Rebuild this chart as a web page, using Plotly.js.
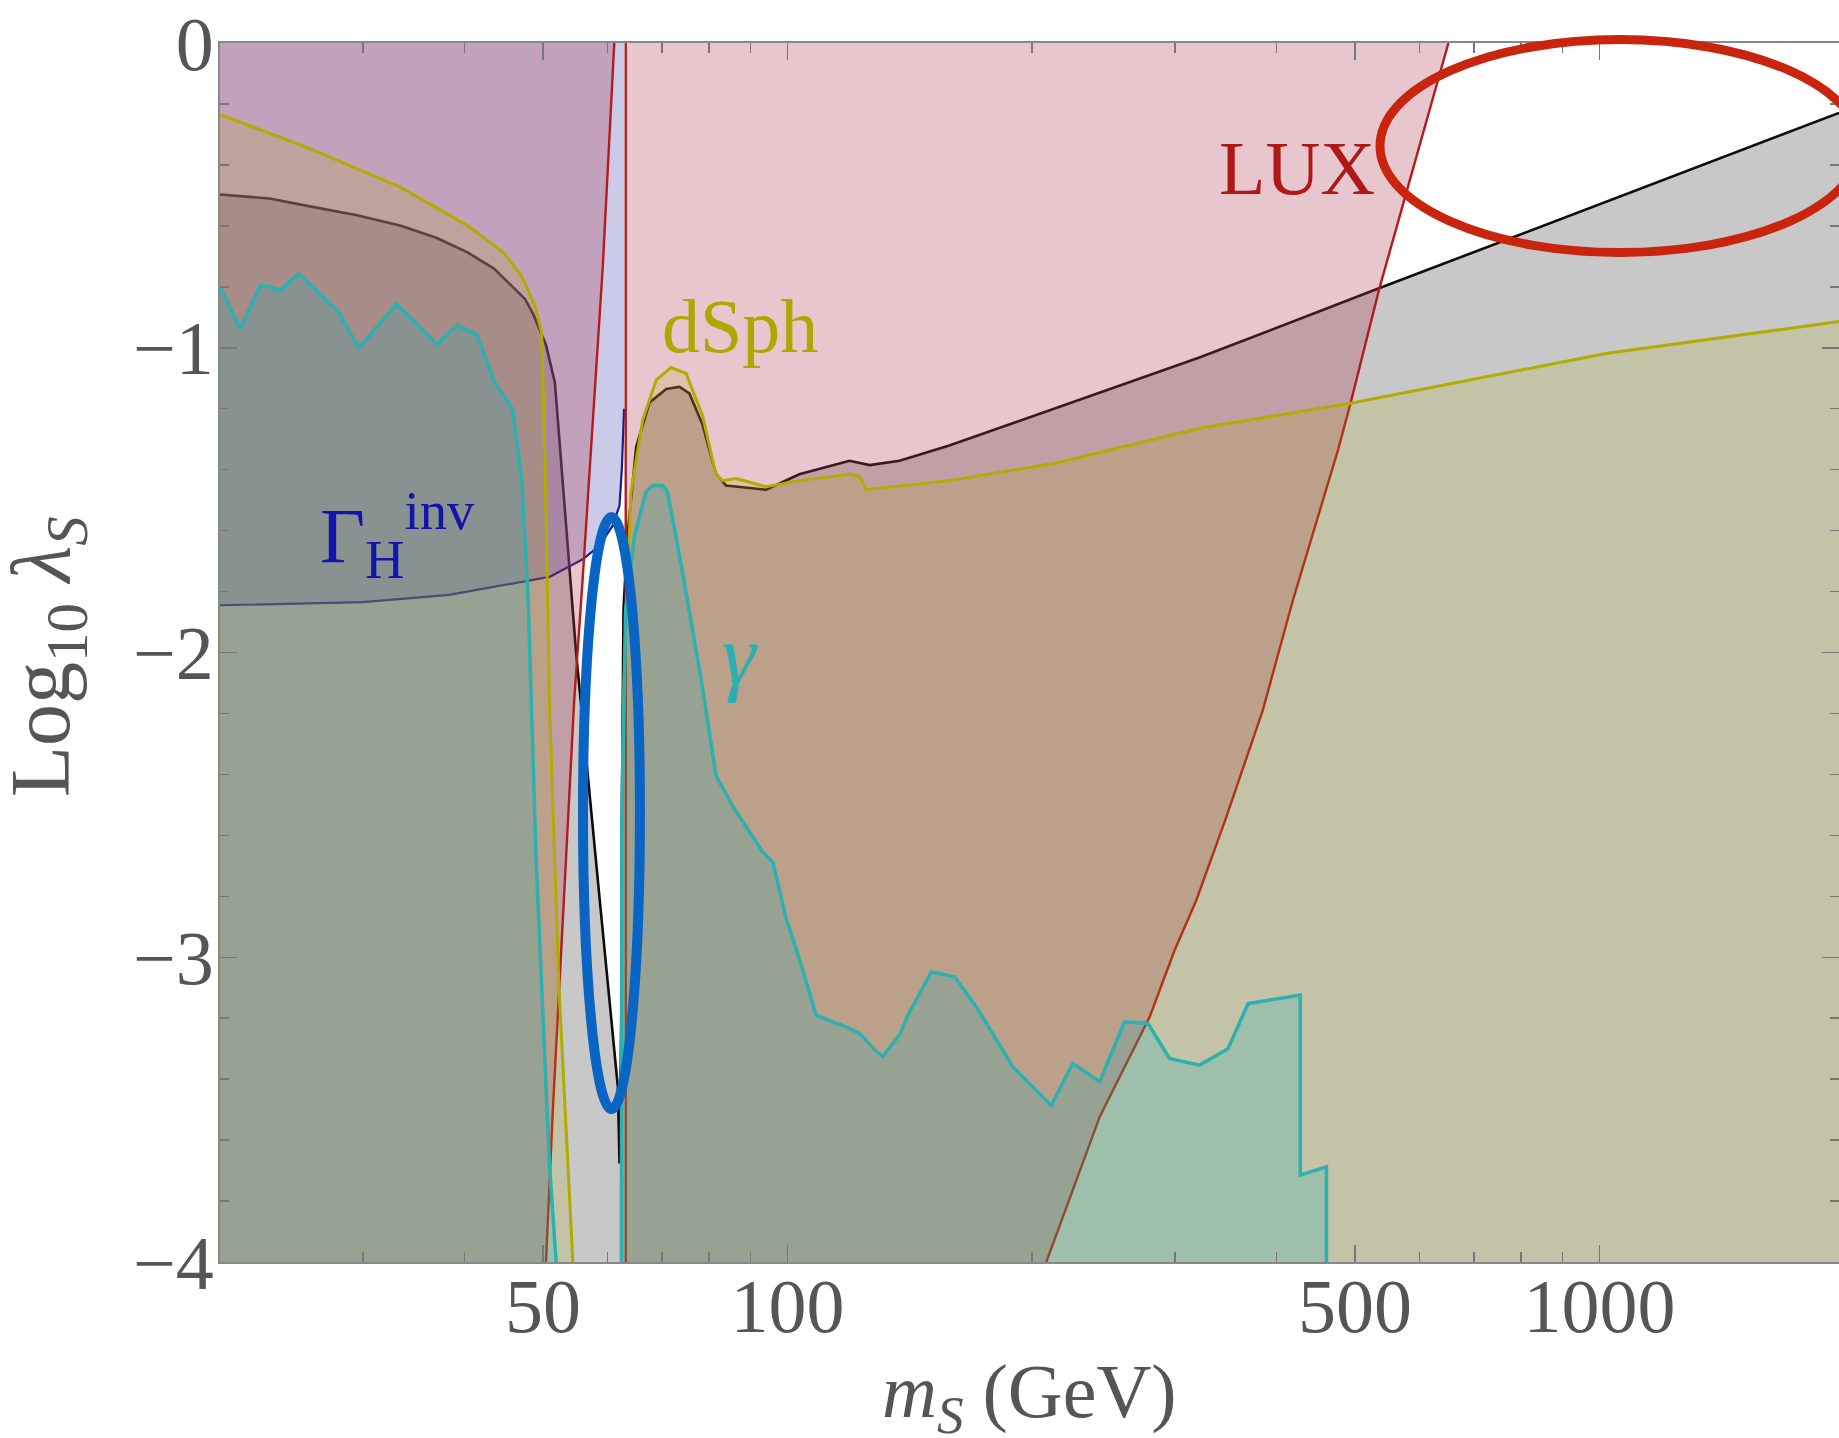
<!DOCTYPE html>
<html>
<head>
<meta charset="utf-8">
<script src="https://cdn.plot.ly/plotly-3.0.1.min.js"></script>
<style>
  html, body { margin: 0; padding: 0; background: #ffffff; }
  #chart { width: 1839px; height: 1438px; }
</style>
</head>
<body>
<div id="chart"></div>
<script>
// Scalar singlet dark matter: constraints in the (m_S, log10 lambda_S) plane.

// Relic density contour (black); below it S is over-abundant
const relicMass = [20, 23, 25.9, 29.5, 33.4, 37, 40.4, 43.5, 45.9, 47.5, 48.6, 50.4, 51.7, 54.9, 58.5, 61.8, 62.1, 62.4, 62.5, 62.8, 63.5, 65.1, 67.6, 70.9, 73.6, 75.7, 78.6, 81.6, 84.0, 94.1, 103.4, 119.2, 126.2, 137.4, 158.2, 213.6, 321.5, 535, 1972];
const relicLog = [-0.497, -0.51, -0.537, -0.565, -0.60, -0.64, -0.688, -0.74, -0.801, -0.84, -0.889, -0.99, -1.115, -2.0, -2.77, -3.425, -3.677, -3.2, -2.55, -1.86, -1.62, -1.326, -1.18, -1.135, -1.128, -1.15, -1.253, -1.413, -1.452, -1.466, -1.415, -1.371, -1.385, -1.371, -1.321, -1.198, -1.032, -0.805, -0.2295];

// Higgs invisible width bound (blue); excluded above, for m_S < m_H/2
const hinvMass = [20, 30, 38.3, 44.15, 50.9, 55.95, 58.65, 60.9, 62.09, 62.5, 62.9];
const hinvLog = [-1.845, -1.835, -1.811, -1.782, -1.752, -1.694, -1.650, -1.584, -1.518, -1.40, -1.2];

// LUX direct detection (red): branch below the resonance, resonance edge, main branch
const luxLeftMass = [50.41, 51.38, 53.37, 54.6, 55.9, 59.2, 61.18];
const luxLeftLog = [-4.0, -3.509, -2.671, -2.159, -1.768, -0.739, 0];
const luxResMass = [63.2, 63.2];
const luxResLog = [0, -4.0];
const luxMainMass = [208.3, 242.3, 279.2, 299.7, 318.8, 347.0, 384.9, 419.3, 455.0, 476.4, 493.6, 535.0, 589.3, 651.5];
const luxMainLog = [-4.0, -3.524, -3.196, -2.977, -2.812, -2.54, -2.189, -1.827, -1.512, -1.335, -1.182, -0.810, -0.412, 0];

// Fermi dwarf spheroidals (yellow); excluded below
const dsphLeftMass = [20, 25.9, 33.4, 40.4, 44.7, 47.0, 48.9, 49.8, 50.0, 50.3, 50.9, 52.3, 54.4];
const dsphLeftLog = [-0.235, -0.348, -0.474, -0.60, -0.688, -0.763, -0.864, -0.952, -1.115, -1.40, -2.16, -3.10, -4.0];
const dsphRightMass = [62.55, 62.6, 62.9, 63.2, 64.15, 66.3, 68.9, 71.85, 75.0, 78.6, 81.6, 83.2, 86.4, 94.1, 103.4, 119.2, 122.6, 125.0, 158.2, 213.6, 321.7, 493.6, 1022.6, 1972];
const dsphRightLog = [-4.0, -2.4, -2.1, -1.913, -1.473, -1.238, -1.106, -1.065, -1.084, -1.224, -1.415, -1.436, -1.429, -1.456, -1.436, -1.415, -1.421, -1.466, -1.436, -1.379, -1.264, -1.182, -1.018, -0.914];

// Gamma-ray lines (cyan); excluded below
const gammaLeftMass = [20, 21.18, 22.43, 22.99, 23.74, 24.97, 27.99, 29.63, 33.0, 36.98, 39.16, 41.45, 43.6, 45.86, 47.05, 47.93, 49.0, 50.9, 51.88];
const gammaLeftLog = [-0.80, -0.938, -0.794, -0.800, -0.812, -0.756, -0.882, -1.001, -0.857, -0.988, -0.926, -0.957, -1.114, -1.202, -1.428, -1.83, -2.671, -3.676, -4.0];
const gammaRightMass = [62.43, 62.5, 63.17, 64.75, 66.93, 68.2, 70.17, 71.16, 74.26, 78.63, 81.63, 85.6, 93.2, 95.9, 99.6, 103.4, 108.5, 116.9, 122.6, 128.5, 131.0, 137.4, 140.7, 150.3, 160.6, 170.8, 189.5, 211.2, 224.6, 242.3, 260.0, 277.8, 295.4, 321.7, 348.7, 369.1, 428, 428, 461, 461];
const gammaRightLog = [-4.0, -2.553, -1.86, -1.621, -1.473, -1.452, -1.452, -1.473, -1.738, -2.120, -2.404, -2.504, -2.655, -2.688, -2.873, -3.006, -3.191, -3.224, -3.249, -3.308, -3.325, -3.254, -3.190, -3.048, -3.064, -3.163, -3.360, -3.486, -3.348, -3.409, -3.212, -3.217, -3.332, -3.354, -3.300, -3.152, -3.124, -3.715, -3.688, -4.0];

// Axis ticks
const xTickVals = [50, 100, 500, 1000];
const xTickText = ['50', '100', '500', '1000'];
const xMinorVals = [20, 30, 40, 60, 70, 80, 90, 200, 300, 400, 600, 700, 800, 900];
const yTickVals = [0, -1, -2, -3, -4];
const yTickText = ['0', '\u22121', '\u22122', '\u22123', '\u22124'];

const X_MIN = 20, X_MAX = 1972;
const Y_MIN = -4, Y_MAX = 0;

// Close a curve down to the bottom of the frame
function below(xs, ys) {
  return {
    x: xs.concat([xs[xs.length - 1], xs[0]]),
    y: ys.concat([Y_MIN, Y_MIN])
  };
}
// Close a curve up to the top of the frame
function above(xs, ys) {
  return {
    x: xs.concat([xs[xs.length - 1], xs[0]]),
    y: ys.concat([Y_MAX, Y_MAX])
  };
}
// Join several polygons/segments into one trace, separated by gaps
function join(parts) {
  const x = [], y = [];
  parts.forEach((p, i) => {
    if (i > 0) { x.push(null); y.push(null); }
    x.push(...p.x); y.push(...p.y);
  });
  return { x, y };
}
function area(poly, color) {
  return {
    type: 'scatter', mode: 'lines', x: poly.x, y: poly.y,
    fill: 'toself', fillcolor: color, line: { width: 0 },
    connectgaps: false, hoverinfo: 'skip', showlegend: false
  };
}
function curve(seg, color, width) {
  return {
    type: 'scatter', mode: 'lines', x: seg.x, y: seg.y,
    line: { color: color, width: width }, connectgaps: false,
    hoverinfo: 'skip', showlegend: false
  };
}

const relicArea = below(relicMass, relicLog);
const hinvArea = above(hinvMass, hinvLog);
const luxArea = join([
  { x: luxLeftMass.concat([X_MIN, X_MIN]), y: luxLeftLog.concat([Y_MAX, Y_MIN]) },
  { x: luxResMass.concat(luxMainMass), y: luxResLog.concat(luxMainLog) }
]);
const dsphArea = join([below(dsphLeftMass, dsphLeftLog), below(dsphRightMass, dsphRightLog)]);
const gammaArea = join([below(gammaLeftMass, gammaLeftLog), below(gammaRightMass, gammaRightLog)]);

const traces = [
  area(relicArea, 'rgba(0,0,0,0.215)'),
  curve({ x: relicMass, y: relicLog }, '#140808', 2.6),
  area(hinvArea, 'rgba(100,100,190,0.335)'),
  curve({ x: hinvMass, y: hinvLog }, '#1c1c8c', 2.2),
  area(luxArea, 'rgba(172,58,83,0.29)'),
  curve(join([
    { x: luxLeftMass, y: luxLeftLog },
    { x: luxResMass, y: luxResLog },
    { x: luxMainMass, y: luxMainLog }
  ]), '#b41c1c', 2.4),
  area(dsphArea, 'rgba(164,170,0,0.165)'),
  curve(join([
    { x: dsphLeftMass, y: dsphLeftLog },
    { x: dsphRightMass, y: dsphRightLog }
  ]), '#b2ac00', 3),
  area(gammaArea, 'rgba(0,173,183,0.186)'),
  curve(join([
    { x: gammaLeftMass, y: gammaLeftLog },
    { x: gammaRightMass, y: gammaRightLog }
  ]), '#2cb0b0', 3.5)
];

const serif = "'Liberation Serif', 'Times New Roman', serif";
const axisGray = '#888888';
const textGray = '#555555';

const layout = {
  width: 1839, height: 1438,
  margin: { l: 220, r: 0, t: 43, b: 176 },
  paper_bgcolor: '#ffffff', plot_bgcolor: '#ffffff',
  showlegend: false,
  xaxis: {
    type: 'log',
    range: [Math.log10(X_MIN), Math.log10(X_MAX)],
    showgrid: false, zeroline: false,
    showline: true, linecolor: axisGray, linewidth: 2, mirror: 'ticks',
    ticks: 'inside', ticklen: 17, tickwidth: 1.5, tickcolor: '#777777',
    tickmode: 'array', tickvals: xTickVals, ticktext: xTickText,
    tickfont: { family: serif, size: 76, color: textGray },
    ticklabelstandoff: -23,
    minor: { tickmode: 'array', tickvals: xMinorVals, ticks: 'inside', ticklen: 10, tickwidth: 1.5, tickcolor: '#777777', showgrid: false }
  },
  yaxis: {
    range: [Y_MIN, Y_MAX],
    showgrid: false, zeroline: false,
    showline: true, linecolor: axisGray, linewidth: 2, mirror: 'ticks',
    ticks: 'inside', ticklen: 17, tickwidth: 1.5, tickcolor: '#777777',
    tickmode: 'array', tickvals: yTickVals, ticktext: yTickText,
    tickfont: { family: serif, size: 76, color: textGray },
    ticklabelstandoff: -11,
    minor: { dtick: 0.2, ticks: 'inside', ticklen: 9, tickwidth: 1.5, tickcolor: '#777777', showgrid: false }
  },
  annotations: [
    { xref: 'paper', yref: 'paper', x: 0.5, y: -0.111, xanchor: 'center', yanchor: 'middle', showarrow: false,
      text: '<i>m</i><sub><i>S</i></sub> (GeV)', font: { family: serif, size: 76, color: textGray } },
    { xref: 'paper', yref: 'paper', x: -0.107, y: 0.4967, xanchor: 'center', yanchor: 'middle', showarrow: false, textangle: -90,
      text: 'Log<sub>10</sub> <i>\u03bb</i><sub><i>S</i></sub>', font: { family: serif, size: 84, color: textGray } },
    { xref: 'paper', yref: 'paper', x: 0.6652, y: 0.8975, xanchor: 'center', yanchor: 'middle', showarrow: false,
      text: 'LUX', font: { family: serif, size: 76, color: '#b01818' } },
    { xref: 'paper', yref: 'paper', x: 0.3212, y: 0.7675, xanchor: 'center', yanchor: 'middle', showarrow: false,
      text: 'dSph', font: { family: serif, size: 76, color: '#aba800' } },
    { xref: 'paper', yref: 'paper', x: 0.0605, y: 0.5964, xanchor: 'left', yanchor: 'middle', showarrow: false,
      text: '\u0393<sub>H</sub><sup>inv</sup>', font: { family: serif, size: 78, color: '#1414aa' } },
    { xref: 'paper', yref: 'paper', x: 0.3212, y: 0.498, xanchor: 'center', yanchor: 'middle', showarrow: false,
      text: '<i>\u03b3</i>', font: { family: serif, size: 86, color: '#2ab0b0' } }
  ],
  shapes: [
    { type: 'circle', xref: 'paper', yref: 'paper', x0: 0.7165, x1: 1.013, y0: 0.8281, y1: 1.0029,
      line: { color: 'rgb(200,36,14)', width: 9 }, fillcolor: 'rgba(0,0,0,0)' },
    { type: 'circle', xref: 'paper', yref: 'paper', x0: 0.2242, x1: 0.2594, y0: 0.1255, y1: 0.6112,
      line: { color: 'rgb(10,100,196)', width: 10 }, fillcolor: 'rgba(0,0,0,0)' }
  ]
};

Plotly.newPlot('chart', traces, layout, { staticPlot: true, displayModeBar: false });
</script>
</body>
</html>
